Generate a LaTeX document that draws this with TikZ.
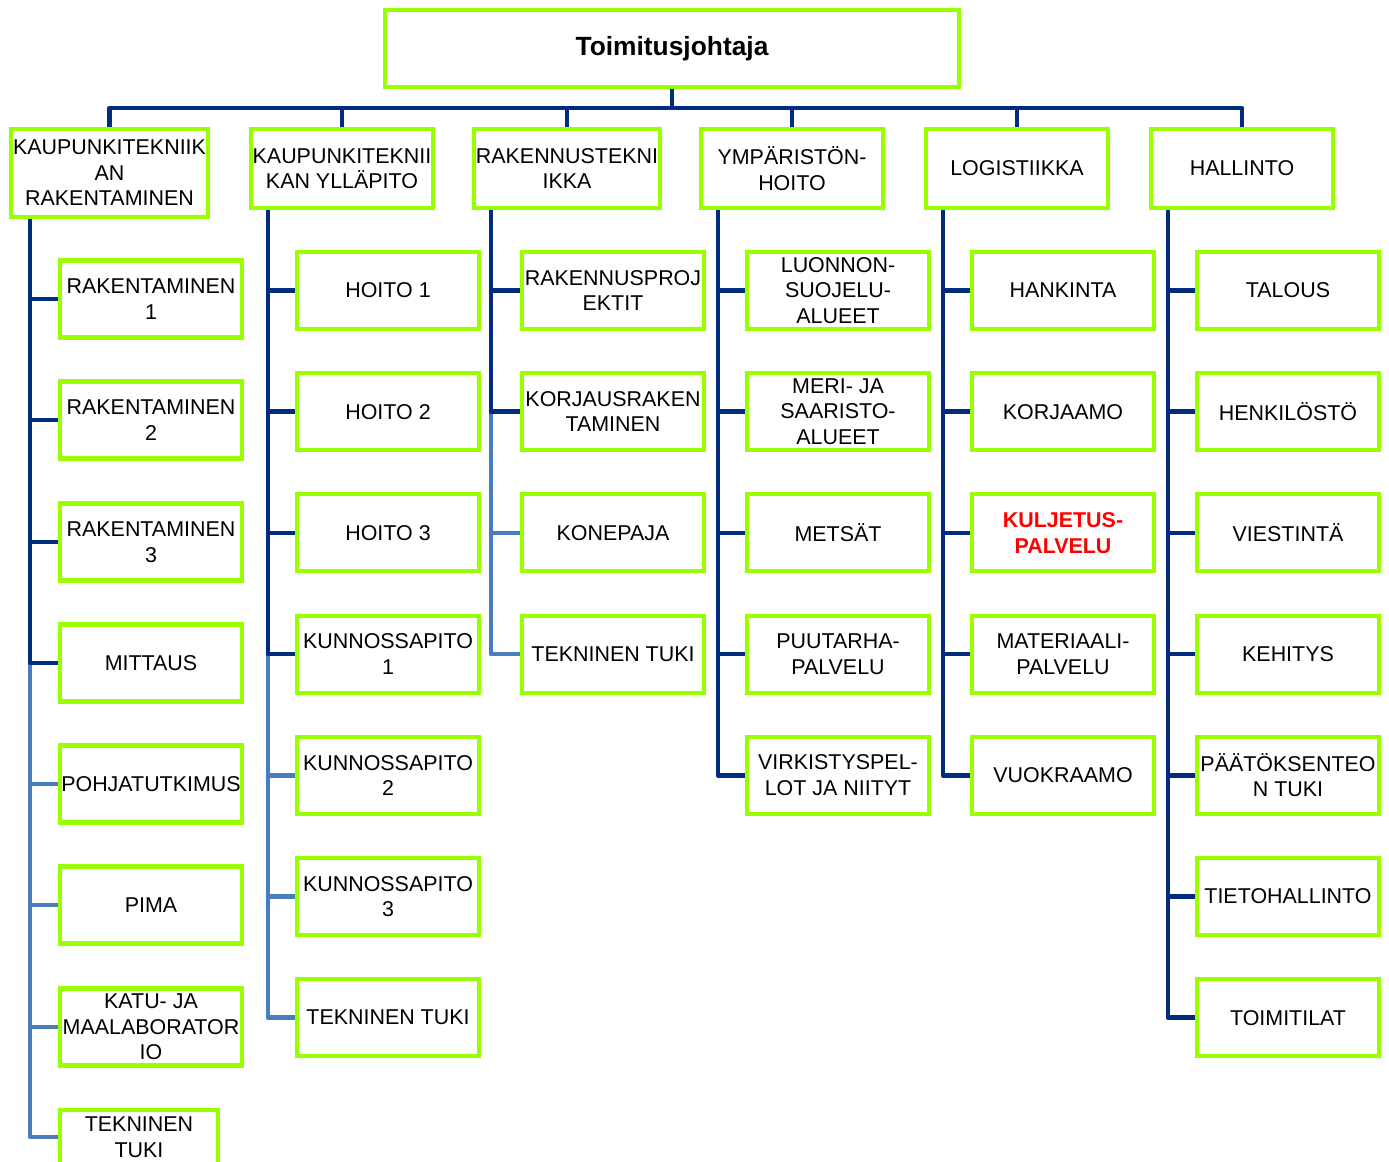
\documentclass[tikz,border=0pt]{standalone}
\usepackage{fontspec}
\setmainfont{Liberation Sans}
\definecolor{boxgreen}{HTML}{99FF00}
\definecolor{linedark}{HTML}{002B7F}
\definecolor{linelight}{HTML}{4A7EBB}
\begin{document}
\begin{tikzpicture}[x=0.02cm,y=-0.02cm,
    unit/.style={draw=boxgreen,line width=2.3pt,fill=white,align=center,
      minimum width=3.64cm,minimum height=1.54cm,inner xsep=1pt,inner ysep=1pt,
      font=\fontsize{12.2}{14.5}\selectfont},
    head/.style={unit,minimum height=1.58cm},
    dk/.style={draw=linedark,line width=2.7pt,line join=round},
    lt/.style={draw=linelight,line width=2.7pt,line join=round}]
  \useasboundingbox (0,0) rectangle (1389,1162);

  % Top box
  \node[unit,minimum width=11.48cm,minimum height=1.54cm,
    font=\fontsize{15}{17}\selectfont\bfseries] (ceo) at (672,48.5) {Toimitusjohtaja};

  % Departments
  \node[unit,minimum width=3.94cm,minimum height=1.76cm] (kr) at (109.5,173) {KAUPUNKITEKNIIK\\AN\\RAKENTAMINEN};
  \node[head] (ky) at (342,168.5) {KAUPUNKITEKNII\\KAN YLLÄPITO};
  \node[head] (rt) at (567,168.5) {RAKENNUSTEKNI\\IKKA};
  \node[head] (yh) at (792,168.5) {YMPÄRISTÖN-\\HOITO};
  \node[head] (lo) at (1017,168.5) {LOGISTIIKKA};
  \node[head] (ha) at (1242,168.5) {HALLINTO};

  % Kaupunkitekniikan rakentaminen
  \node[unit] (kr1) at (151,299) {RAKENTAMINEN\\1};
  \node[unit] (kr2) at (151,420) {RAKENTAMINEN\\2};
  \node[unit] (kr3) at (151,542) {RAKENTAMINEN\\3};
  \node[unit] (kr4) at (151,663) {MITTAUS};
  \node[unit] (kr5) at (151,784) {POHJATUTKIMUS};
  \node[unit] (kr6) at (151,905) {PIMA};
  \node[unit] (kr7) at (151,1027) {KATU- JA\\MAALABORATOR\\IO};
  \node[unit,minimum width=3.16cm,minimum height=1.08cm] (kr8) at (139,1137) {TEKNINEN\\TUKI};

  % Kaupunkitekniikan ylläpito
  \node[unit] (ky1) at (388,290.5) {HOITO 1};
  \node[unit] (ky2) at (388,411.7) {HOITO 2};
  \node[unit] (ky3) at (388,532.9) {HOITO 3};
  \node[unit] (ky4) at (388,654.1) {KUNNOSSAPITO\\1};
  \node[unit] (ky5) at (388,775.3) {KUNNOSSAPITO\\2};
  \node[unit] (ky6) at (388,896.5) {KUNNOSSAPITO\\3};
  \node[unit] (ky7) at (388,1017.7) {TEKNINEN TUKI};

  % Rakennustekniikka
  \node[unit] (rt1) at (613,290.5) {RAKENNUSPROJ\\EKTIT};
  \node[unit] (rt2) at (613,411.7) {KORJAUSRAKEN\\TAMINEN};
  \node[unit] (rt3) at (613,532.9) {KONEPAJA};
  \node[unit] (rt4) at (613,654.1) {TEKNINEN TUKI};

  % Ympäristönhoito
  \node[unit] (yh1) at (838,290.5) {LUONNON-\\SUOJELU-\\ALUEET};
  \node[unit] (yh2) at (838,411.7) {MERI- JA\\SAARISTO-\\ALUEET};
  \node[unit] (yh3) at (838,532.9) {METSÄT};
  \node[unit] (yh4) at (838,654.1) {PUUTARHA-\\PALVELU};
  \node[unit] (yh5) at (838,775.3) {VIRKISTYSPEL-\\LOT JA NIITYT};

  % Logistiikka
  \node[unit] (lo1) at (1063,290.5) {HANKINTA};
  \node[unit] (lo2) at (1063,411.7) {KORJAAMO};
  \node[unit,text=red,font=\fontsize{12.2}{14.5}\selectfont\bfseries] (lo3) at (1063,532.9) {KULJETUS-\\PALVELU};
  \node[unit] (lo4) at (1063,654.1) {MATERIAALI-\\PALVELU};
  \node[unit] (lo5) at (1063,775.3) {VUOKRAAMO};

  % Hallinto
  \node[unit] (ha1) at (1288,290.5) {TALOUS};
  \node[unit] (ha2) at (1288,411.7) {HENKILÖSTÖ};
  \node[unit] (ha3) at (1288,532.9) {VIESTINTÄ};
  \node[unit] (ha4) at (1288,654.1) {KEHITYS};
  \node[unit] (ha5) at (1288,775.3) {PÄÄTÖKSENTEO\\N TUKI};
  \node[unit] (ha6) at (1288,896.5) {TIETOHALLINTO};
  \node[unit] (ha7) at (1288,1017.7) {TOIMITILAT};

  % Top bar
  \coordinate (bar) at ([yshift=-0.38cm]ceo.south);
  \draw[dk] (ceo.south) -- (bar);
  \foreach \k in {kr,ky,rt,yh,lo,ha}
    \draw[dk] (bar) -| (\k.north);

  % Trunks
  \coordinate (t1) at ([xshift=0.42cm]kr.south west);
  \coordinate (t2) at ([xshift=0.38cm]ky.south west);
  \coordinate (t3) at ([xshift=0.38cm]rt.south west);
  \coordinate (t4) at ([xshift=0.38cm]yh.south west);
  \coordinate (t5) at ([xshift=0.38cm]lo.south west);
  \coordinate (t6) at ([xshift=0.38cm]ha.south west);

  % Light connectors
  \foreach \c in {kr5,kr6,kr7,kr8}
    \draw[lt] (t1 |- kr4.west) |- (\c.west);
  \foreach \c in {ky5,ky6,ky7}
    \draw[lt] (t2 |- ky4.west) |- (\c.west);
  \foreach \c in {rt3,rt4}
    \draw[lt] (t3 |- rt2.west) |- (\c.west);

  % Dark connectors
  \foreach \c in {kr1,kr2,kr3,kr4}
    \draw[dk] (t1) |- (\c.west);
  \foreach \c in {ky1,ky2,ky3,ky4}
    \draw[dk] (t2) |- (\c.west);
  \foreach \c in {rt1,rt2}
    \draw[dk] (t3) |- (\c.west);
  \foreach \c in {yh1,yh2,yh3,yh4,yh5}
    \draw[dk] (t4) |- (\c.west);
  \foreach \c in {lo1,lo2,lo3,lo4,lo5}
    \draw[dk] (t5) |- (\c.west);
  \foreach \c in {ha1,ha2,ha3,ha4,ha5,ha6,ha7}
    \draw[dk] (t6) |- (\c.west);
\end{tikzpicture}
\end{document}
